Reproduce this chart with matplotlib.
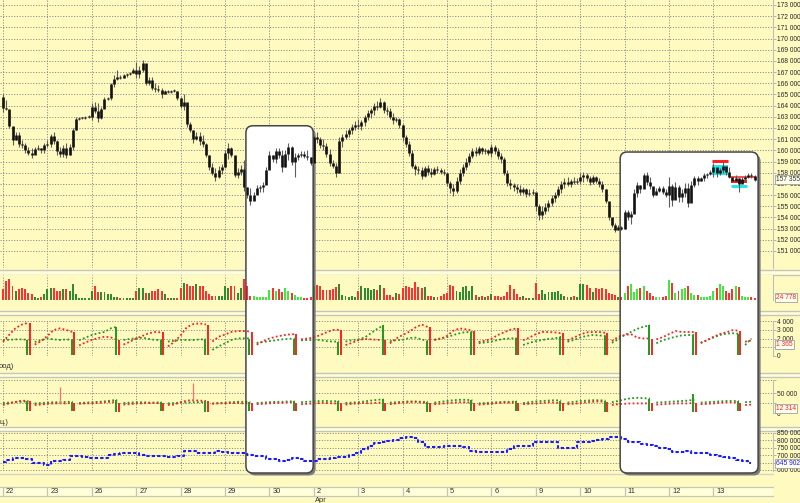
import numpy as np
import matplotlib
matplotlib.use("Agg")
import matplotlib.pyplot as plt
from matplotlib.patches import FancyBboxPatch, Rectangle
from matplotlib.lines import Line2D
from matplotlib.ticker import FuncFormatter
from matplotlib.transforms import IdentityTransform

plt.rcParams["font.family"] = ["Liberation Sans", "DejaVu Sans"]

# ---------------- data: hourly bars, 14 per session ----------------
days = ["22", "23", "26", "27", "28", "29", "30", "2", "3", "4", "5", "6",
        "9", "10", "11", "12", "13"]
month_at = {7: "Apr"}
bars_per_day = 14
spike_slot = 8          # bar of the session where the indicators reset

first_open = 164.8      # price in thousands
close = [
    163.8, 163.7, 162.2, 160.9, 161.4, 160.6, 160.5, 160.0, 159.8, 159.6, 160.1, 160.2, 160.0, 160.5,
    160.6, 161.3, 160.8, 159.9, 159.7, 160.2, 159.6, 160.3, 161.8, 162.8, 162.9, 162.9, 163.0, 163.0,
    163.9, 163.5, 162.9, 163.7, 164.6, 164.7, 165.9, 166.4, 166.6, 166.5, 166.7, 166.8, 166.9, 167.2,
    166.8, 167.2, 167.8, 166.0, 166.3, 165.6, 165.5, 165.4, 165.0, 165.3, 165.2, 165.3, 165.3, 164.7,
    164.0, 164.3, 162.4, 161.8, 161.0, 161.3, 160.8, 160.6, 159.6, 158.5, 158.0, 157.6, 158.2, 158.5,
    159.8, 160.2, 159.6, 157.8, 158.1, 158.3, 156.7, 156.0, 155.5, 156.0, 156.6, 156.7, 156.9, 158.2,
    159.6, 159.2, 159.9, 159.6, 158.5, 159.7, 160.3, 159.0, 159.4, 159.6, 159.7, 159.5, 159.4, 158.9,
    161.2, 161.0, 160.5, 160.4, 159.7, 158.9, 158.6, 158.0, 160.8, 161.2, 161.5, 161.8, 162.1, 162.3,
    162.2, 162.5, 163.0, 163.3, 163.6, 164.0, 163.9, 164.3, 163.6, 163.5, 163.0, 162.7, 162.8, 162.3,
    161.2, 160.6, 159.8, 158.6, 158.3, 158.2, 157.7, 158.4, 158.1, 157.9, 158.3, 158.2, 158.1, 158.0,
    157.1, 156.6, 156.4, 157.3, 158.0, 158.5, 159.0, 159.5, 159.9, 159.8, 160.2, 159.9, 160.0, 159.8,
    160.3, 159.9, 159.5, 159.2, 158.0, 157.1, 156.9, 156.7, 156.5, 156.3, 156.5, 156.1, 156.2, 156.3,
    155.0, 154.2, 154.6, 154.9, 155.3, 155.7, 156.0, 156.5, 157.0, 157.2, 157.0, 157.3, 157.2, 157.3,
    157.6, 157.8, 157.5, 157.2, 157.6, 157.3, 157.0, 156.5, 155.5, 154.0, 153.3, 152.9, 153.1, 153.0,
    154.5, 154.0, 154.3, 156.2, 156.9, 156.5, 157.8, 157.2, 156.8, 156.0, 156.4, 156.6, 156.3, 156.0,
    156.8, 155.6, 156.7, 155.8, 156.2, 156.6, 155.3, 156.9, 157.5, 157.3, 157.5, 157.8, 157.9, 158.1,
    158.5, 158.0, 158.2, 158.6, 158.1, 157.6, 157.3, 157.5, 157.0, 157.4, 157.6, 157.8, 157.7, 157.355,
]
high = [
    165.0, 164.5, 163.3, 162.1, 161.6, 161.6, 160.9, 160.7, 160.3, 160.2, 160.3, 160.5, 160.2, 160.7,
    160.9, 161.5, 161.6, 160.9, 160.3, 160.5, 160.7, 160.6, 162.0, 163.0, 163.0, 163.0, 163.1, 163.2,
    164.2, 164.3, 164.2, 163.9, 164.8, 164.8, 166.0, 166.7, 167.2, 166.7, 166.8, 166.9, 167.0, 167.4,
    167.9, 167.5, 168.1, 167.5, 166.6, 166.6, 166.0, 165.8, 165.6, 165.4, 165.4, 165.4, 165.5, 165.3,
    164.8, 165.0, 164.2, 162.5, 161.8, 161.6, 161.6, 161.4, 160.7, 159.6, 158.9, 158.4, 158.6, 158.8,
    160.0, 160.7, 160.3, 158.7, 158.4, 158.7, 159.1, 156.7, 156.6, 156.3, 156.9, 156.9, 157.2, 158.5,
    159.9, 159.6, 160.2, 160.2, 160.0, 160.0, 160.7, 160.4, 159.8, 159.8, 159.9, 159.9, 160.0, 159.4,
    161.4, 161.6, 161.2, 161.0, 160.7, 160.1, 159.1, 158.9, 161.2, 161.5, 161.8, 162.0, 162.4, 162.6,
    162.8, 162.7, 163.2, 163.6, 163.8, 164.2, 164.4, 164.7, 164.4, 163.9, 163.8, 163.3, 163.0, 162.9,
    162.4, 161.4, 160.8, 160.0, 158.8, 158.6, 158.5, 158.6, 158.7, 158.4, 158.5, 158.6, 158.4, 158.3,
    158.0, 157.3, 157.0, 157.6, 158.3, 158.8, 159.3, 159.8, 160.2, 160.3, 160.4, 160.3, 160.2, 160.1,
    160.6, 160.5, 160.2, 159.8, 159.4, 158.2, 157.4, 157.1, 157.0, 156.9, 156.7, 156.6, 156.5, 156.5,
    156.2, 155.2, 155.0, 155.3, 155.6, 156.0, 156.3, 156.8, 157.3, 157.5, 157.6, 157.4, 157.6, 157.5,
    158.0, 158.1, 158.0, 157.7, 157.8, 157.7, 157.5, 157.3, 156.5, 155.3, 153.8, 153.5, 153.3, 153.2,
    154.7, 154.7, 154.6, 156.5, 157.2, 156.9, 158.0, 158.1, 157.6, 156.6, 156.6, 156.8, 156.8, 156.5,
    157.6, 157.0, 157.2, 156.9, 156.5, 157.1, 157.1, 157.3, 157.7, 157.7, 157.6, 158.0, 158.0, 158.2,
    158.9, 158.4, 158.4, 159.0, 158.4, 158.5, 157.5, 157.8, 157.5, 157.6, 157.8, 158.0, 158.0, 157.8,
]
low = [
    163.4, 163.6, 162.0, 160.5, 160.9, 160.3, 160.2, 159.8, 159.6, 159.3, 159.9, 160.0, 159.8, 159.8,
    160.3, 160.3, 160.6, 159.6, 159.4, 159.4, 159.3, 159.6, 160.0, 161.8, 162.7, 162.8, 162.8, 162.9,
    162.7, 163.3, 162.5, 162.8, 163.8, 164.5, 164.5, 165.7, 166.3, 166.4, 166.5, 166.6, 166.7, 166.9,
    166.5, 166.5, 167.0, 165.8, 165.8, 165.4, 165.2, 165.2, 164.7, 165.0, 165.1, 165.1, 165.2, 164.5,
    163.8, 163.6, 162.1, 161.6, 160.7, 160.9, 160.5, 160.3, 159.4, 158.2, 157.8, 157.3, 157.5, 157.9,
    158.4, 159.2, 159.4, 157.6, 157.5, 157.8, 156.4, 155.7, 155.1, 155.6, 156.3, 156.3, 156.3, 157.2,
    158.4, 159.0, 158.9, 159.3, 158.1, 158.5, 159.1, 158.7, 157.6, 159.1, 159.4, 159.3, 159.1, 158.7,
    159.3, 160.7, 160.2, 160.0, 159.4, 158.6, 158.4, 157.6, 158.0, 160.3, 161.0, 161.2, 161.5, 161.8,
    161.9, 161.8, 162.2, 162.7, 162.9, 163.2, 163.6, 163.8, 163.3, 163.2, 162.8, 162.4, 162.5, 162.0,
    160.8, 160.3, 159.5, 158.4, 157.8, 157.9, 157.4, 157.6, 157.8, 157.6, 157.8, 158.0, 157.9, 157.8,
    156.8, 156.2, 155.9, 156.2, 157.0, 157.7, 158.2, 158.7, 159.3, 159.5, 159.6, 159.7, 159.7, 159.6,
    159.4, 159.7, 159.2, 158.9, 157.8, 156.8, 156.5, 156.4, 156.2, 156.0, 156.1, 155.8, 155.9, 156.0,
    154.6, 153.8, 153.9, 154.3, 154.6, 155.0, 155.4, 155.8, 156.2, 156.6, 156.8, 156.7, 157.0, 157.0,
    157.0, 157.2, 157.3, 156.9, 157.0, 157.1, 156.7, 156.3, 155.3, 153.8, 153.1, 152.7, 152.9, 152.9,
    153.0, 153.8, 153.4, 154.4, 155.8, 156.2, 156.7, 156.9, 156.5, 155.8, 156.0, 156.3, 156.1, 155.8,
    154.9, 155.0, 155.7, 155.4, 155.4, 155.8, 154.9, 155.5, 156.7, 156.9, 157.3, 157.3, 157.5, 157.8,
    157.6, 157.6, 157.8, 158.0, 157.8, 157.5, 157.2, 157.3, 156.3, 157.2, 157.3, 157.5, 157.5, 157.3,
]
last_price = 157355

volume = [  # thousands of contracts
    128, 228, 248, 168, 108, 128, 144, 132, 84, 68, 36, 28, 36, 68,
    128, 144, 144, 108, 108, 128, 128, 108, 188, 68, 28, 28, 28, 28,
    108, 168, 100, 100, 100, 68, 68, 40, 36, 30, 28, 28, 28, 28,
    108, 144, 144, 88, 88, 108, 108, 128, 108, 68, 28, 28, 28, 28,
    144, 204, 188, 168, 168, 188, 168, 168, 108, 68, 48, 48, 48, 48,
    168, 144, 168, 168, 88, 144, 248, 168, 48, 48, 36, 36, 36, 36,
    120, 144, 108, 132, 96, 144, 108, 84, 60, 36, 36, 30, 30, 36,
    168, 180, 168, 116, 116, 116, 128, 156, 188, 60, 48, 36, 48, 36,
    108, 168, 140, 140, 116, 128, 116, 180, 148, 60, 60, 36, 88, 68,
    148, 168, 156, 148, 220, 156, 148, 156, 48, 48, 36, 36, 48, 68,
    88, 180, 168, 108, 100, 156, 168, 108, 168, 60, 36, 48, 36, 48,
    68, 48, 48, 36, 48, 96, 180, 128, 68, 36, 48, 28, 28, 28,
    208, 68, 116, 68, 100, 100, 100, 108, 68, 48, 36, 36, 48, 36,
    188, 196, 180, 148, 100, 148, 128, 140, 128, 88, 68, 60, 36, 36,
    88, 168, 188, 100, 128, 140, 168, 108, 88, 48, 36, 36, 36, 48,
    236, 208, 88, 108, 128, 148, 168, 88, 60, 60, 36, 36, 36, 48,
    108, 148, 196, 168, 108, 88, 128, 168, 156, 48, 36, 36, 36, 25,
]
last_volume = 24778

# indicator panels, read every second bar
osc_red = [
    1630, 2450, 3200, 3600, 3800,
    1300, 1700, 2290, 2970, 3160, 2970, 2740,
    1200, 1550, 1830, 2050, 2210, 2130, 1830,
    1300, 1630, 2000, 2300, 2600, 2740, 2700,
    1100, 1600, 2350, 3300, 3650, 3730, 3600,
    1650, 2200, 2450, 2750, 2850, 2850, 2800,
    1300, 1700, 2000, 2200, 2350, 2450, 2500,
    1900, 2000, 2100, 2400, 2700, 2970, 3000,
    1250, 1500, 1800, 1950, 1900, 1850, 1830,
    1450, 2000, 2400, 2750, 3250, 3600, 3300,
    1850, 1950, 2300, 2900, 3150, 3050, 2900,
    1600, 1750, 1950, 2400, 2700, 3000, 3160,
    1800, 2100, 2500, 2740, 2740, 2700, 2600,
    1800, 2100, 2450, 2700, 2740, 2740, 2650,
    1700, 2200, 2400, 2500, 2100, 2000, 2000,
    1900, 2150, 2500, 2850, 2750, 2740, 2740,
    1500, 1800, 2200, 2500, 2700, 2950, 2900,
    1630, 1800,
]
osc_green = [
    1830, 1850, 1900, 1900, 1850,
    1600, 1800, 2020, 1900, 1830, 1900, 1830,
    1800, 2100, 2400, 2600, 2740, 3160, 3350,
    1830, 1950, 2020, 2100, 1950, 1830, 1830,
    1650, 1750, 1830, 1830, 1830, 1900, 1900,
    700, 1100, 1450, 1830, 2020, 2020, 2000,
    1500, 1600, 1700, 1800, 1900, 1950, 2000,
    1800, 1830, 1830, 1830, 1700, 1650, 1650,
    1650, 1800, 1900, 2100, 2600, 3100, 3500,
    1700, 1800, 1850, 2050, 2100, 1900, 1700,
    1850, 2020, 2150, 2400, 2600, 2740, 2740,
    1450, 1550, 1650, 1830, 1950, 2020, 2020,
    1260, 1500, 1700, 1830, 1950, 2020, 2200,
    1630, 1830, 2100, 2300, 2400, 2350, 2300,
    1500, 1900, 2400, 2750, 3100, 3350, 3500,
    1450, 1800, 2000, 2200, 2350, 2400, 2400,
    1500, 1830, 2100, 2400, 2550, 2600, 2550,
    1260, 2000,
]
osc_spike_low = [80, 120, 60, 100, 60, 100, 150, 60, 100, 80, 100, 120, 100, 60, 150, 100, 80]
osc_last = 1365

flow_red = [  # thousands
    20, 24, 28, 31, 30,
    20, 21, 23, 24, 24, 24, 25,
    23, 24, 24, 25, 27, 28, 26,
    21, 22, 24, 24, 25, 25, 24,
    20, 21, 27, 31, 32, 31, 30,
    23, 24, 24, 25, 25, 24, 24,
    22, 23, 24, 25, 25, 26, 26,
    22, 23, 24, 25, 25, 24, 24,
    21, 23, 24, 25, 24, 26, 25,
    22, 24, 26, 27, 28, 26, 25,
    22, 23, 25, 26, 27, 27, 26,
    21, 22, 23, 25, 26, 26, 25,
    22, 23, 24, 25, 27, 26, 25,
    22, 23, 25, 27, 28, 29, 28,
    20, 22, 23, 24, 24, 24, 24,
    21, 22, 23, 24, 24, 24, 25,
    22, 23, 24, 25, 26, 26, 25,
    20, 21,
]
flow_green = [
    25, 26, 27, 28, 29,
    24, 25, 26, 27, 27, 28, 28,
    25, 26, 27, 28, 29, 31, 33,
    25, 26, 27, 27, 26, 26, 27,
    24, 25, 26, 26, 27, 27, 27,
    24, 25, 26, 27, 28, 28, 28,
    25, 26, 27, 28, 28, 29, 29,
    27, 28, 29, 30, 30, 29, 30,
    25, 26, 27, 29, 31, 33, 34,
    26, 27, 28, 29, 29, 28, 28,
    26, 28, 30, 32, 33, 33, 32,
    24, 25, 26, 27, 28, 28, 29,
    25, 27, 29, 30, 31, 32, 31,
    26, 28, 30, 31, 32, 32, 31,
    27, 30, 34, 37, 38, 37, 36,
    26, 27, 28, 29, 30, 31, 33,
    26, 27, 28, 29, 30, 30, 30,
    27, 28,
]
flow_spike_top = [31, 28, 33, 27, 30, 28, 29, 30, 34, 28, 32, 29, 31, 31, 36, 47, 30]
flow_spike_low = [4, 5, 3, 4, 3, 5, 6, 4, 4, 3, 5, 4, 5, 3, 4, 3, 4]
flow_jump_bar = [18, 60]
flow_jump_top = [66, 76]
flow_last = 12314

open_interest = [  # thousands
    656, 665, 681, 678, 672, 647, 645,
    636, 660, 663, 668, 694, 692, 690,
    683, 680, 684, 700, 708, 715, 713,
    712, 700, 697, 694, 692, 690, 690,
    692, 728, 726, 716, 716, 718, 728,
    722, 713, 713, 712, 700, 696, 692,
    676, 672, 660, 665, 680, 672, 661,
    660, 674, 676, 684, 687, 690, 700,
    718, 745, 760, 780, 790, 795, 800,
    815, 823, 818, 790, 758, 755, 755,
    762, 762, 760, 755, 725, 722, 722,
    722, 720, 720, 745, 760, 762, 762,
    788, 790, 790, 792, 752, 750, 750,
    790, 792, 798, 805, 812, 823, 822,
    812, 790, 788, 775, 768, 760, 752,
    740, 722, 720, 726, 716, 714, 712,
    700, 695, 688, 680, 668, 660, 647,
]
oi_last = 645902

zone_bars = [(76.6, 97.8), (194.6, 238.1)]
zone_top = [162.2, 159.85]
order_bars = [(224, 228), (230, 234)]
order_box = [(157.8, 158.7), (157.08, 157.35)]
order_box_color = ["#22E8F0", "#FF2020"]
order_line = [159.07, 156.84]
order_line_color = ["#FF2020", "#22E8F0"]
stop_level = 157.64
stop_bars = (229, 237)

# ---------------- layout ----------------
W, H = 800, 503
RIGHT = 773
BAR_PX = 44.4 / bars_per_day
BG = "#FFFBC0"
GRID = "#8E8E8E"
RED = "#FF2020"
GREEN = "#1E9A1E"
FS = 5.4        # dates and panel titles
FS_AX = 4.8     # right-hand scale

fig = plt.figure(figsize=(W / 100, H / 100), dpi=100)
fig.patch.set_facecolor(BG)


def spaced(v):
    return f"{int(round(v)):,}".replace(",", " ")


def panel(top, bottom, ylim, yticks, scale=1, labels=None):
    ax = fig.add_axes([0, 1 - bottom / H, RIGHT / W, (bottom - top) / H])
    ax.set_facecolor(BG)
    ax.set_xlim(-3 / BAR_PX, (RIGHT - 3) / BAR_PX)
    ax.set_ylim(*ylim)
    ax.set_axisbelow(True)
    for s in ("top", "left", "bottom"):
        ax.spines[s].set_visible(False)
    ax.spines["right"].set_color("#BEBEBE")
    ax.spines["right"].set_linewidth(0.8)
    ax.yaxis.tick_right()
    ax.set_xticks(np.arange(len(days)) * bars_per_day)
    ax.set_yticks(yticks)
    if labels is None:
        ax.yaxis.set_major_formatter(FuncFormatter(lambda v, _: spaced(v * scale)))
    else:
        ax.set_yticklabels(labels)
    ax.tick_params(axis="x", length=0, labelbottom=False)
    ax.tick_params(axis="y", length=2.2, width=0.6, color="#A8A8A8", pad=0.6,
                   labelsize=FS_AX, labelcolor="#262626")
    ax.grid(True, color=GRID, linestyle=(0, (1.2, 1.6)), linewidth=0.7)
    return ax


def tag(ax, y, text, color):
    ax.text(1 + 3 / RIGHT, y, text, transform=ax.get_yaxis_transform(), color=color,
            fontsize=FS_AX, va="center", ha="left", zorder=6, clip_on=False,
            bbox=dict(boxstyle="square,pad=0.15", fc="#FFFFEE", ec="#A0A0A0", lw=0.6))


def strip(top, bottom):
    fig.add_artist(Rectangle((0, H - bottom), W, bottom - top, transform=IdentityTransform(),
                             facecolor="#FFFFDE", edgecolor="none", zorder=-3))
    for y in (top, bottom):
        fig.add_artist(Line2D([0, W], [H - y, H - y], transform=IdentityTransform(),
                              color="#C6C6B6", lw=1.0, zorder=-3))


ax_p = panel(0, 268, (149.476, 173.447), np.arange(151, 174), scale=1000)
ax_v = panel(275, 300, (0, 300), [])
ax_c = panel(321, 356, (0, 4000), np.arange(0, 4001, 1000))
ax_d = panel(380, 413, (0, 82.5), [0, 25, 50, 82.5], labels=["0", "", "50 000", ""])
ax_e = panel(433, 471, (593.2, 850), np.arange(600, 851, 50), scale=1000)
panels = [ax_p, ax_v, ax_c, ax_d, ax_e]

for top, bottom in [(270, 275), (311, 315), (373, 377), (427, 431)]:
    strip(top, bottom)
fig.add_artist(Line2D([0, RIGHT], [H - 474, H - 474], transform=IdentityTransform(),
                      color="#D4D4C0", lw=1.0, zorder=-3))

fig.text(-1 / W, 1 - 367 / H, "оод)", fontsize=FS, color="#303030", va="center")
fig.text(-1 / W, 1 - 422 / H, "ц.)", fontsize=FS, color="#303030", va="center")

# ---------------- highlight zones ----------------
def zone_patch(b, dx=0.0, dy=0.0, **kw):
    x0 = ax_p.transData.transform((zone_bars[b][0], 0))[0]
    x1 = ax_p.transData.transform((zone_bars[b][1], 0))[0]
    yt = ax_p.transData.transform((0, zone_top[b]))[1]
    yb = H - 473
    return FancyBboxPatch((x0 + dx, yb + dy), x1 - x0, yt - yb,
                          boxstyle="round,pad=0,rounding_size=7",
                          transform=IdentityTransform(), **kw)


for b in range(len(zone_bars)):
    fig.add_artist(zone_patch(b, 2.5, -2.5, fc="#7C7C7C", ec="none", zorder=-2))
    fig.add_artist(zone_patch(b, fc="white", ec="none", zorder=-1))
    for ax in panels:
        ax.add_patch(zone_patch(b, 2.5, -2.5, fc="#7C7C7C", ec="none", zorder=0.8))
        ax.add_patch(zone_patch(b, fc="white", ec="none", zorder=0.9))
    fig.add_artist(zone_patch(b, fc="none", ec="#454545", lw=1.1, zorder=5))

# ---------------- price ----------------
n = len(close)
idx = np.arange(n)
cl = np.asarray(close)
opens = np.r_[first_open, cl[:-1]]
body_lo = np.minimum(opens, cl)
body_hi = np.maximum(np.maximum(opens, cl), body_lo + 0.08)
ax_p.vlines(idx, low, high, color="#5C5C5C", lw=0.8, zorder=2)
ax_p.vlines(idx, body_lo, body_hi, color="#111111", lw=1.9, zorder=3)

for (b0, b1), (lo, hi), bc, ln, lc in zip(order_bars, order_box, order_box_color,
                                          order_line, order_line_color):
    ax_p.add_patch(Rectangle((b0 - 0.5, lo), b1 - b0 + 1, hi - lo, fc=bc, ec="none", zorder=1.5))
    ax_p.hlines(ln, b0 - 0.5, b1 + 0.5, color=lc, lw=2.2, zorder=1.6)
ax_p.hlines(stop_level, stop_bars[0], stop_bars[1] + 0.5, color=RED, lw=1.1, zorder=1.6)
tag(ax_p, last_price / 1000, spaced(last_price), "#333333")

# ---------------- volume ----------------
in_zone = np.zeros(n, bool)
for a, b in zone_bars:
    in_zone |= (idx >= a) & (idx <= b)
vol_colors = np.where(cl >= opens, np.where(in_zone, "#3CEB3C", "#2E8B2E"), "#FF3030")
ax_v.bar(idx, volume, width=0.62, color=vol_colors, zorder=2)
ax_v.grid(axis="y", visible=False)
tag(ax_v, last_volume / 1000, spaced(last_volume), RED)

# ---------------- indicator panels ----------------
half = idx[::2]
spikes = np.arange(len(days)) * bars_per_day + spike_slot
seg_start = [0] + [s // 2 + 1 for s in spikes]
seg_end = [s // 2 for s in spikes] + [len(half) - 1]
dots = (0, (1.0, 1.3))


def dotted_segments(ax, series, color, lw=1.3):
    series = np.asarray(series, float)
    for a, b in zip(seg_start, seg_end):
        ax.plot(half[a:b + 1], series[a:b + 1], color=color, lw=lw, ls=dots, zorder=3)


dotted_segments(ax_c, osc_green, GREEN)
dotted_segments(ax_c, osc_red, RED)
for d, s in enumerate(spikes):
    j = s // 2
    ax_c.vlines(s - 0.3, osc_spike_low[d], osc_green[j], color=GREEN, lw=1.4, zorder=4)
    ax_c.vlines(s + 0.5, osc_spike_low[d], osc_red[j], color=RED, lw=1.4, zorder=4)
tag(ax_c, osc_last, spaced(osc_last), RED)

dotted_segments(ax_d, flow_green, GREEN)
dotted_segments(ax_d, flow_red, RED)
for d, s in enumerate(spikes):
    ax_d.vlines(s - 0.3, flow_spike_low[d], flow_spike_top[d], color=GREEN, lw=1.4, zorder=4)
    ax_d.vlines(s + 0.5, flow_spike_low[d], flow_red[s // 2], color=RED, lw=1.4, zorder=4)
for b, t in zip(flow_jump_bar, flow_jump_top):
    ax_d.vlines(b, flow_red[b // 2], t, color="#FF7070", lw=0.9, zorder=4)
tag(ax_d, flow_last / 1000, spaced(flow_last), RED)

ax_e.plot(half, open_interest, color="#1A1AFF", lw=1.5, ls=(0, (1.6, 1.0)),
          drawstyle="steps-mid", zorder=3)
tag(ax_e, oi_last / 1000, spaced(oi_last), "#1A1AFF")

# ---------------- date strip ----------------
ax_t = fig.add_axes([0, 1 - 496 / H, RIGHT / W, 9 / H])
ax_t.set_facecolor("#FFFFDA")
ax_t.set_xlim(ax_p.get_xlim())
ax_t.set_ylim(0, 1)
ax_t.set_xticks([])
ax_t.set_yticks([])
for s in ("left", "right"):
    ax_t.spines[s].set_visible(False)
for s in ("top", "bottom"):
    ax_t.spines[s].set_color("#C8C8B8")
    ax_t.spines[s].set_linewidth(0.9)
starts = np.arange(len(days)) * bars_per_day
ax_t.vlines(starts, 0, 1, color="#C4C4B4", lw=0.9)
for d, lab in enumerate(days):
    ax_t.annotate(lab, (starts[d], 0.5), xycoords=("data", "axes fraction"),
                  xytext=(3, 0), textcoords="offset pixels", fontsize=FS,
                  va="center", ha="left", color="#303030")
for d, lab in month_at.items():
    ax_t.annotate(lab, (starts[d], 0), xycoords=("data", "axes fraction"),
                  xytext=(1, -4), textcoords="offset pixels", fontsize=FS,
                  va="center", ha="left", color="#303030", annotation_clip=False)

fig.savefig("out.png", dpi=100, facecolor=BG)
